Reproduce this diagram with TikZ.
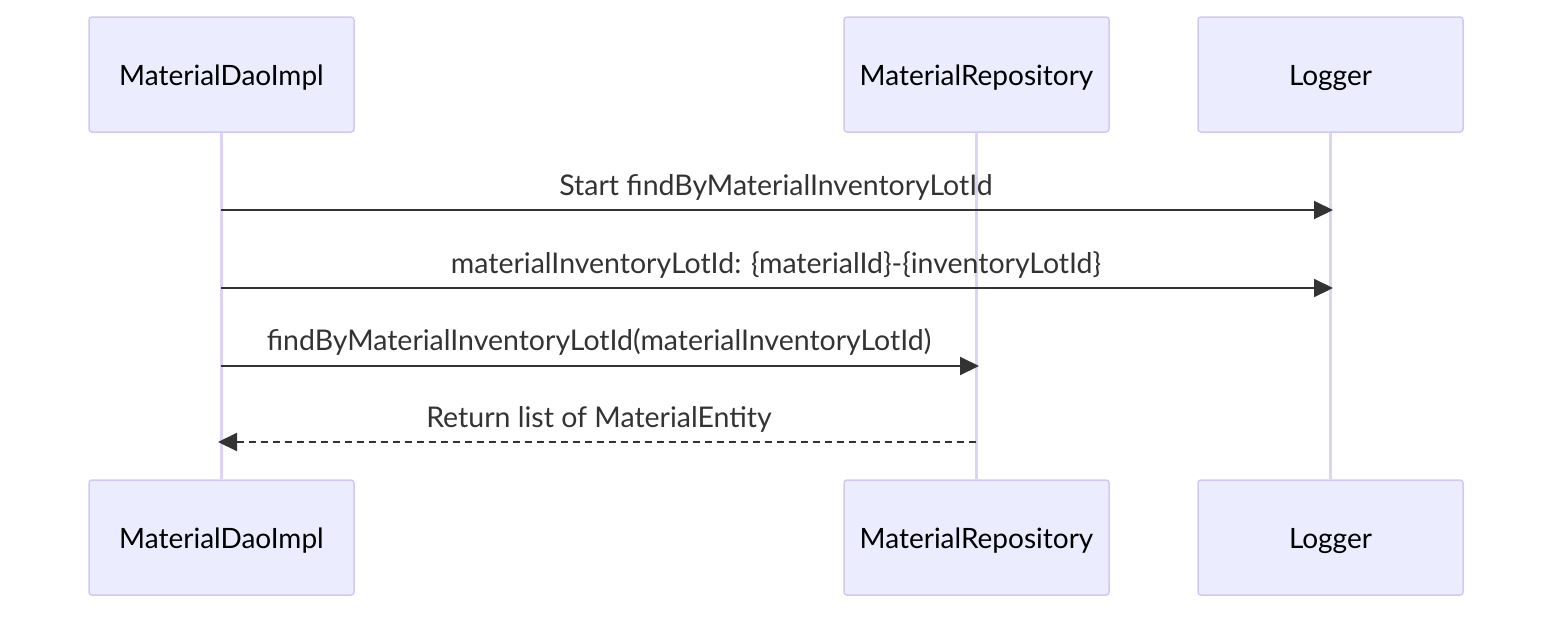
\documentclass[tikz,border=0pt]{standalone}
\usepackage{fontspec}
\setmainfont{Lato}
\usetikzlibrary{arrows.meta}
\definecolor{actfill}{HTML}{ECECFF}
\definecolor{actdraw}{HTML}{D3C8F0}
\definecolor{lifel}{HTML}{DDD3F3}
\definecolor{msg}{HTML}{333333}
\newcommand{\acttxt}[1]{\raisebox{-10.5pt}[0pt][0pt]{#1}}
\begin{document}
\begin{tikzpicture}[x=1pt,y=-1pt,
  actor/.style={draw=actdraw,fill=actfill,line width=1.5pt,rounded corners=3pt,
    minimum width=265pt,minimum height=115pt,inner sep=0pt,font=\fontsize{28}{32}\selectfont,text=black},
  life/.style={draw=lifel,line width=3pt},
  msgline/.style={draw=msg,line width=2pt,-{Triangle[length=19pt,width=18pt]}},
  msgdash/.style={msgline,dash pattern=on 7pt off 5pt},
  lbl/.style={font=\fontsize{28.5}{32}\selectfont,text=msg,inner sep=0pt}]
\useasboundingbox (0,0) rectangle (1568,622);
\node[actor] (a1) at (221.5,74.5) {\acttxt{MaterialDaoImpl}};
\node[actor] (a2) at (976.5,74.5) {\acttxt{MaterialRepository}};
\node[actor] (a3) at (1330.5,74.5) {\acttxt{Logger}};
\node[actor] (b1) at (221.5,537.5) {\acttxt{MaterialDaoImpl}};
\node[actor] (b2) at (976.5,537.5) {\acttxt{MaterialRepository}};
\node[actor] (b3) at (1330.5,537.5) {\acttxt{Logger}};
\draw[life] (a1.south) -- (b1.north);
\draw[life] (a2.south) -- (b2.north);
\draw[life] (a3.south) -- (b3.north);
\coordinate (s1) at (221,210); \coordinate (e1) at (1333,210);
\coordinate (s2) at (221,288); \coordinate (e2) at (1333,288);
\coordinate (s3) at (221,366); \coordinate (e3) at (979,366);
\coordinate (s4) at (976,442); \coordinate (e4) at (218,442);
\draw[msgline] (s1) -- (e1);
\draw[msgline] (s2) -- (e2);
\draw[msgline] (s3) -- (e3);
\draw[msgdash] (s4) -- (e4);
\node[lbl] (l1) at (776,187) {Start findByMaterialInventoryLotId};
\node[lbl] (l2) at (776,265) {materialInventoryLotId: \{materialId\}-\{inventoryLotId\}};
\node[lbl] (l3) at (599,342) {findByMaterialInventoryLotId(materialInventoryLotId)};
\node[lbl] (l4) at (599,419) {Return list of MaterialEntity};
\end{tikzpicture}
\end{document}
